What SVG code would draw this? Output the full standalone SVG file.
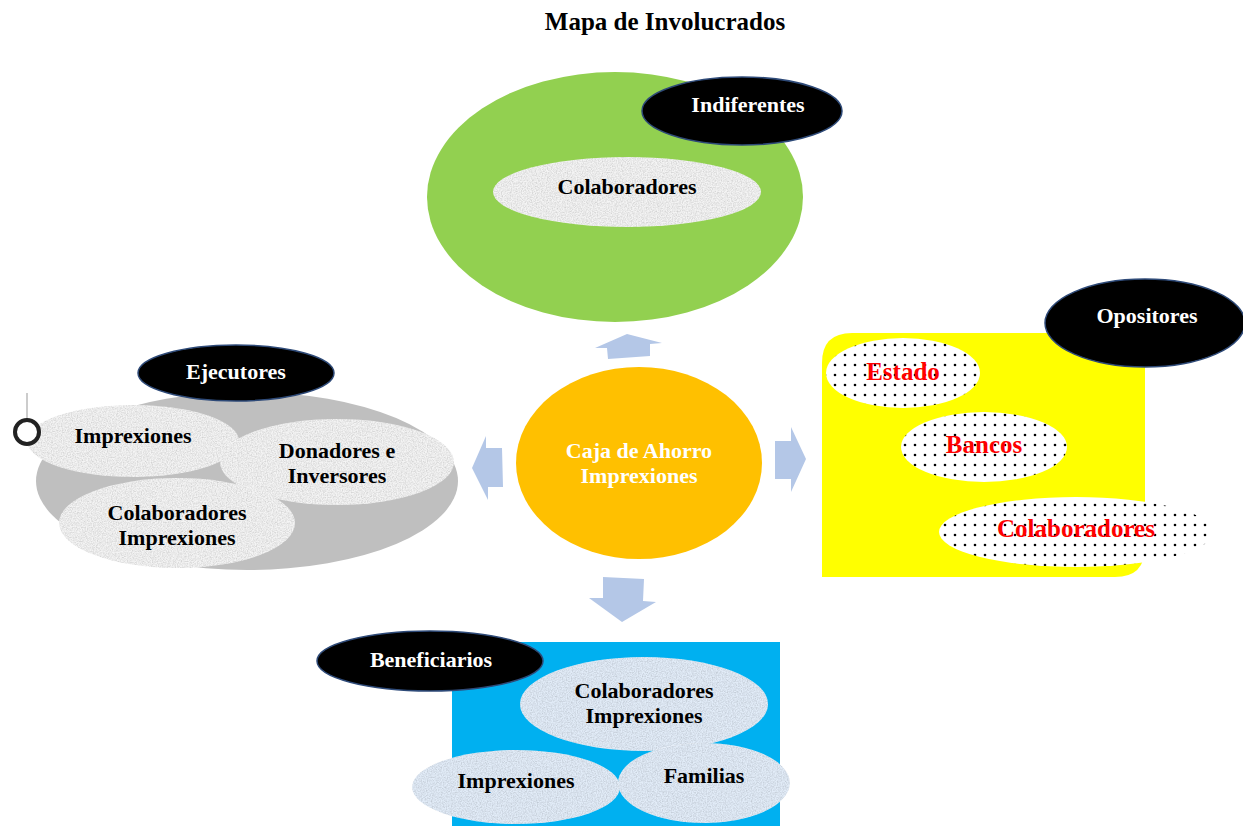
<svg xmlns="http://www.w3.org/2000/svg" width="1243" height="826" viewBox="0 0 1243 826">
<defs>
<style>
text{font-family:"Liberation Serif","Times New Roman",serif;font-weight:bold;text-anchor:middle}
.lbl{font-size:22px;fill:#000}
.wh{font-size:22px;fill:#fff}
.red{font-size:25px;fill:#ff0000}
.tag{fill:#000;stroke:#2e4a78;stroke-width:1.5}
.gran{fill:#f4f4f4;filter:url(#granite)}
.bgran{fill:#e2ecf8;filter:url(#granite)}
.dots{fill:url(#dotpat)}
.arrow{fill:#b4c7e7}
</style>
<filter id="granite" x="0" y="0" width="1" height="1">
<feTurbulence type="fractalNoise" baseFrequency="0.8" numOctaves="2" seed="4" result="n"/>
<feColorMatrix in="n" type="matrix" values="0.55 0 0 0 0.63  0.55 0 0 0 0.63  0.55 0 0 0 0.63  0 0 0 0 1" result="g"/>
<feBlend in="SourceGraphic" in2="g" mode="multiply" result="b"/>
<feComposite in="b" in2="SourceGraphic" operator="in"/>
</filter>
<pattern id="dotpat" width="10" height="10" patternUnits="userSpaceOnUse">
<rect width="10" height="10" fill="#fff"/>
<circle cx="5" cy="5" r="1.3" fill="#000"/>
</pattern>
</defs>
<rect width="1243" height="826" fill="#fff"/>
<text x="665" y="30" style="font-size:25px">Mapa de Involucrados</text>

<g id="indiferentes">
<ellipse cx="615" cy="197" rx="188" ry="125" fill="#92d050"/>
<ellipse class="gran" cx="627" cy="192" rx="134" ry="35"/>
<text class="lbl" x="627" y="194">Colaboradores</text>
<ellipse class="tag" cx="742" cy="111" rx="100" ry="34"/>
<text class="wh" x="748" y="112">Indiferentes</text>
</g>

<g id="caja">
<ellipse cx="639" cy="463" rx="123" ry="96" fill="#ffc000"/>
<text class="wh" x="639" y="458">Caja de Ahorro</text>
<text class="wh" x="639" y="483">Imprexiones</text>
</g>

<g id="ejecutores">
<line x1="27" y1="393" x2="27" y2="420" stroke="#999" stroke-width="1"/>
<ellipse cx="247" cy="481" rx="211" ry="89" fill="#bfbfbf"/>
<ellipse class="gran" cx="133" cy="441" rx="106" ry="36"/>
<ellipse class="gran" cx="337" cy="462" rx="117" ry="43"/>
<ellipse class="gran" cx="177" cy="523" rx="118" ry="45"/>
<text class="lbl" x="133" y="443">Imprexiones</text>
<text class="lbl" x="337" y="458">Donadores e</text>
<text class="lbl" x="337" y="483">Inversores</text>
<text class="lbl" x="177" y="520">Colaboradores</text>
<text class="lbl" x="177" y="545">Imprexiones</text>
<circle cx="27" cy="432" r="12" fill="#fff" stroke="#222" stroke-width="4"/>
<ellipse class="tag" cx="236" cy="373" rx="98" ry="28"/>
<text class="wh" x="236" y="379">Ejecutores</text>
</g>

<g id="opositores">
<path d="M822,363 Q822,333 852,333 L1145,333 L1145,547 Q1145,577 1115,577 L822,577 Z" fill="#ffff00"/>
<ellipse class="dots" cx="903" cy="373" rx="77" ry="35"/>
<ellipse class="dots" cx="984" cy="447" rx="83" ry="35"/>
<ellipse class="dots" cx="1076" cy="532" rx="137" ry="35"/>
<text class="red" x="903" y="380">Estado</text>
<text class="red" x="984" y="453">Bancos</text>
<text class="red" x="1076" y="537">Colaboradores</text>
<ellipse class="tag" cx="1145" cy="323" rx="100" ry="44"/>
<text class="wh" x="1147" y="323">Opositores</text>
</g>

<g id="beneficiarios">
<rect x="452" y="642" width="328" height="190" fill="#00b0f0"/>
<ellipse class="bgran" cx="644" cy="704" rx="124" ry="47"/>
<ellipse class="bgran" cx="516" cy="787" rx="104" ry="37"/>
<ellipse class="bgran" cx="704" cy="783" rx="86" ry="40"/>
<text class="lbl" x="644" y="698">Colaboradores</text>
<text class="lbl" x="644" y="723">Imprexiones</text>
<text class="lbl" x="516" y="788">Imprexiones</text>
<text class="lbl" x="704" y="783">Familias</text>
<ellipse class="tag" cx="430" cy="661" rx="113" ry="30"/>
<text class="wh" x="431" y="667">Beneficiarios</text>
</g>

<g id="connectors">
<polygon class="arrow" points="627,334 662,343 650,344 650,356 608,359 607,348 595,348"/>
<polygon class="arrow" points="472,468 486,436 486,448 502,448 503,487 488,487 488,500"/>
<polygon class="arrow" points="775,441 791,441 791,427 806,459 791,492 791,479 775,479"/>
<polygon class="arrow" points="603,577 644,579 643,601 656,602 622,622 589,598 603,598"/>
</g>
</svg>
